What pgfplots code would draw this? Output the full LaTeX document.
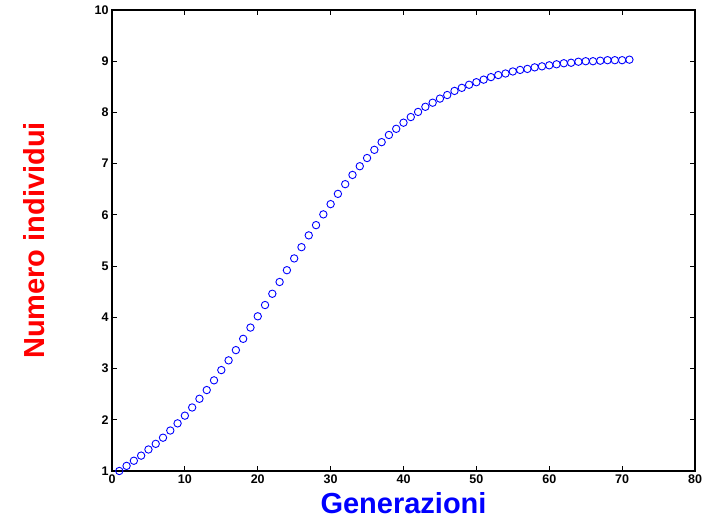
\documentclass[border=0pt]{standalone}
\usepackage{fontspec}
\setmainfont{Liberation Sans}
\usepackage{pgfplots}
\pgfplotsset{compat=1.18}

\definecolor{mblue}{RGB}{0,0,255}
\definecolor{mred}{RGB}{255,0,0}

\begin{document}
\begin{tikzpicture}
\path[use as bounding box] (0,0) rectangle (709pt,518pt);
\begin{axis}[
  at={(112pt,47pt)}, anchor=south west,
  scale only axis,
  width=583pt, height=461pt,
  xmin=0, xmax=80, ymin=1, ymax=10,
  xtick={0,10,...,80},
  ytick={1,2,...,10},
  tick align=inside,
  major tick length=5pt,
  axis line style={line width=1.2pt},
  every tick/.style={black, line width=0.8pt},
  clip=false,
  /pgf/number format/assume math mode=true,
  ticklabel style={font=\fontsize{12.5}{14}\selectfont\bfseries},
  every axis x label/.style={at={(axis description cs:0.5,0)}, yshift=-42.5pt, anchor=base, inner sep=0pt},
  every axis y label/.style={at={(axis description cs:0,0.5)}, xshift=-67pt, rotate=90, anchor=base, inner sep=0pt},
  xlabel={\fontsize{29}{32}\selectfont\bfseries\color{mblue}Generazioni},
  ylabel={\fontsize{29}{32}\selectfont\bfseries\color{mred}Numero individui},
]
\addplot[only marks, mark=o, mark size=3.7pt, color=mblue, line width=0.9pt] coordinates {
  (1,1.00) (2,1.10) (3,1.20) (4,1.30) (5,1.42) (6,1.53) (7,1.65) (8,1.79)
  (9,1.93) (10,2.08) (11,2.24) (12,2.41) (13,2.58) (14,2.77) (15,2.97)
  (16,3.16) (17,3.36) (18,3.58) (19,3.80) (20,4.02) (21,4.24) (22,4.46)
  (23,4.69) (24,4.92) (25,5.15) (26,5.37) (27,5.60) (28,5.80) (29,6.01)
  (30,6.21) (31,6.41) (32,6.60) (33,6.78) (34,6.95) (35,7.11) (36,7.27)
  (37,7.42) (38,7.56) (39,7.68) (40,7.80) (41,7.91) (42,8.01) (43,8.11)
  (44,8.19) (45,8.27) (46,8.34) (47,8.42) (48,8.48) (49,8.54) (50,8.59)
  (51,8.64) (52,8.69) (53,8.73) (54,8.76) (55,8.80) (56,8.83) (57,8.85)
  (58,8.88) (59,8.90) (60,8.92) (61,8.94) (62,8.96) (63,8.97) (64,8.99)
  (65,9.00) (66,9.00) (67,9.01) (68,9.02) (69,9.02) (70,9.02) (71,9.03)
};
\end{axis}
\end{tikzpicture}
\end{document}
